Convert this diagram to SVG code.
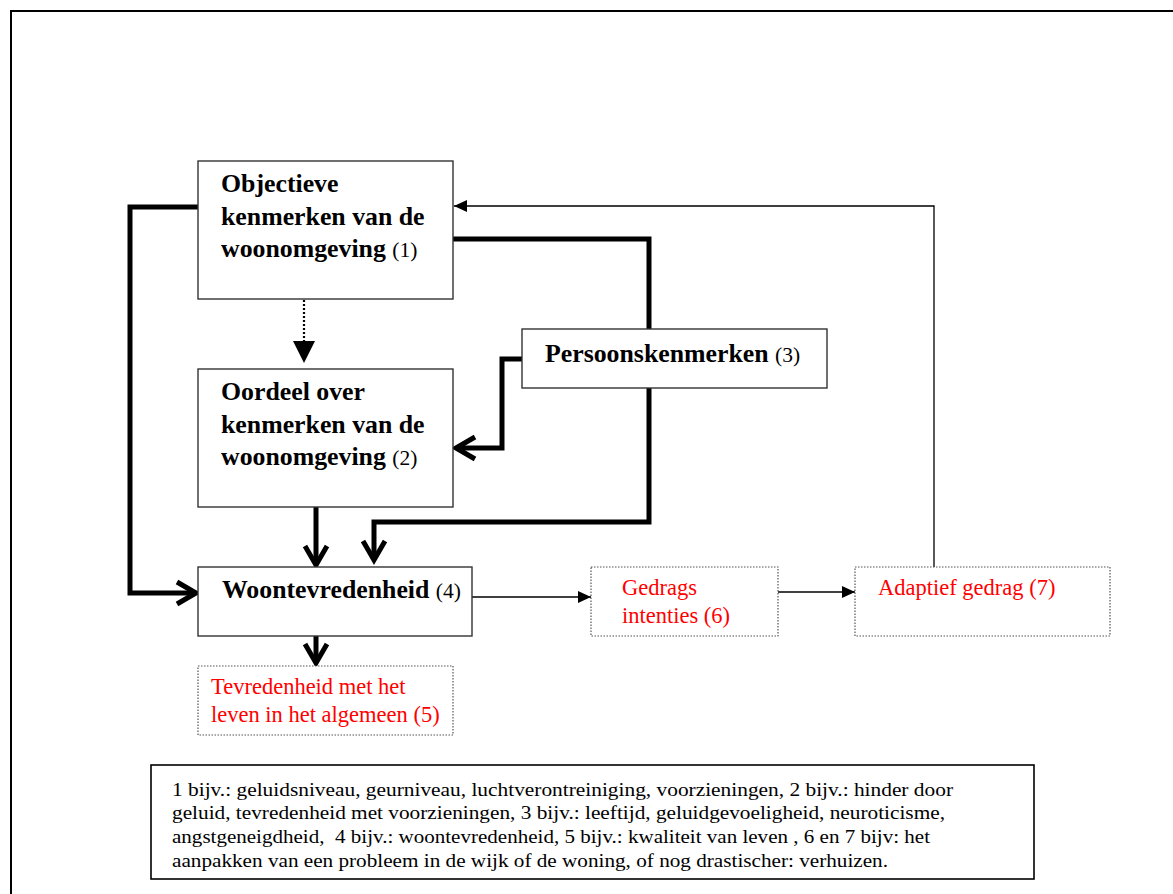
<svg xmlns="http://www.w3.org/2000/svg" width="1173" height="894" viewBox="0 0 1173 894">
<style>
.box{fill:#fff;stroke:#333;stroke-width:1.4}
.dbox{fill:#fff;stroke:#555;stroke-width:1.2;stroke-dasharray:1.5 1.5}
.t{font-family:"Liberation Serif","Times New Roman",serif;fill:#000}
.b{font-weight:bold;font-size:25.8px}
.n{font-size:21.5px;font-weight:normal}
.r{font-family:"Liberation Serif","Times New Roman",serif;fill:#ff0000;font-size:22.5px}
.f{font-family:"Liberation Serif","Times New Roman",serif;fill:#000;font-size:18.5px}
.thick{fill:none;stroke:#000;stroke-width:5}
.head{fill:none;stroke:#000;stroke-width:5;stroke-linejoin:miter;stroke-miterlimit:10}
.thin{fill:none;stroke:#000;stroke-width:1.3}
</style>
<defs>
<marker id="ah" markerUnits="userSpaceOnUse" markerWidth="14" markerHeight="12" refX="13" refY="6" orient="auto">
<path d="M0,0 L13,6 L0,12 Z" fill="#000"/>
</marker>
<clipPath id="fclip"><rect x="151" y="765" width="883" height="113"/></clipPath>
</defs>
<rect x="11" y="11" width="1175" height="900" fill="none" stroke="#000" stroke-width="2"/>
<g id="connectors">
<path class="thick" d="M198,207 H130 V593 H194"/>
<path class="head" d="M177,582 L196,593 L177,604"/>
<path class="thick" d="M453,239 H649 V329"/>
<path class="thick" d="M649,388 V522 H374 V558"/>
<path class="head" d="M363,541 L374,560 L385,541"/>
<path class="thick" d="M522,359 H502 V448 H458"/>
<path class="head" d="M475,437 L456,448 L475,459"/>
<path class="thick" d="M316,507 V563"/>
<path class="head" d="M305,546 L316,565 L327,546"/>
<path class="thick" d="M316,636 V661"/>
<path class="head" d="M305,644 L316,663 L327,644"/>
<path d="M304,300 V342" fill="none" stroke="#000" stroke-width="2.2" stroke-dasharray="2 2"/>
<path d="M293,341 L315,341 L304,363 Z" fill="#000"/>
<path class="thin" d="M472,597 H591" marker-end="url(#ah)"/>
<path class="thin" d="M778,592 H855" marker-end="url(#ah)"/>
<path class="thin" d="M934,567 V206 H454" marker-end="url(#ah)"/>
</g>
<g id="node1">
<rect class="box" x="198" y="161" width="255" height="138"/>
<text class="t b" x="221" y="192">Objectieve</text>
<text class="t b" x="221" y="224.5">kenmerken van de</text>
<text class="t b" x="221" y="257">woonomgeving <tspan class="n">(1)</tspan></text>
</g>
<g id="node2">
<rect class="box" x="198" y="369" width="255" height="138"/>
<text class="t b" x="221" y="400">Oordeel over</text>
<text class="t b" x="221" y="432.5">kenmerken van de</text>
<text class="t b" x="221" y="465">woonomgeving <tspan class="n">(2)</tspan></text>
</g>
<g id="node3">
<rect class="box" x="522" y="329" width="305" height="59"/>
<text class="t b" x="545" y="362">Persoonskenmerken <tspan class="n">(3)</tspan></text>
</g>
<g id="node4">
<rect class="box" x="198" y="567" width="274" height="69"/>
<text class="t b" x="222" y="598">Woontevredenheid <tspan class="n">(4)</tspan></text>
</g>
<g id="node5">
<rect class="dbox" x="198" y="666" width="255" height="69"/>
<text class="r" x="211" y="694">Tevredenheid met het</text>
<text class="r" x="211" y="722">leven in het algemeen (5)</text>
</g>
<g id="node6">
<rect class="dbox" x="591" y="567" width="187" height="69"/>
<text class="r" x="622" y="595">Gedrags</text>
<text class="r" x="622" y="623">intenties (6)</text>
</g>
<g id="node7">
<rect class="dbox" x="855" y="567" width="255" height="69"/>
<text class="r" x="878" y="595">Adaptief gedrag (7)</text>
</g>
<g id="footnote">
<rect x="151" y="765" width="883" height="114" fill="#fff" stroke="#000" stroke-width="1.6"/>
<g clip-path="url(#fclip)">
<text class="f" x="172" y="796" textLength="781" lengthAdjust="spacingAndGlyphs">1 bijv.: geluidsniveau, geurniveau, luchtverontreiniging, voorzieningen, 2 bijv.: hinder door</text>
<text class="f" x="172" y="819" textLength="773" lengthAdjust="spacingAndGlyphs">geluid, tevredenheid met voorzieningen, 3 bijv.: leeftijd, geluidgevoeligheid, neuroticisme,</text>
<text class="f" x="172" y="843" textLength="758" lengthAdjust="spacingAndGlyphs" xml:space="preserve">angstgeneigdheid,  4 bijv.: woontevredenheid, 5 bijv.: kwaliteit van leven , 6 en 7 bijv: het</text>
<text class="f" x="172" y="867" textLength="716" lengthAdjust="spacingAndGlyphs">aanpakken van een probleem in de wijk of de woning, of nog drastischer: verhuizen.</text>
</g>
</g>
</svg>
